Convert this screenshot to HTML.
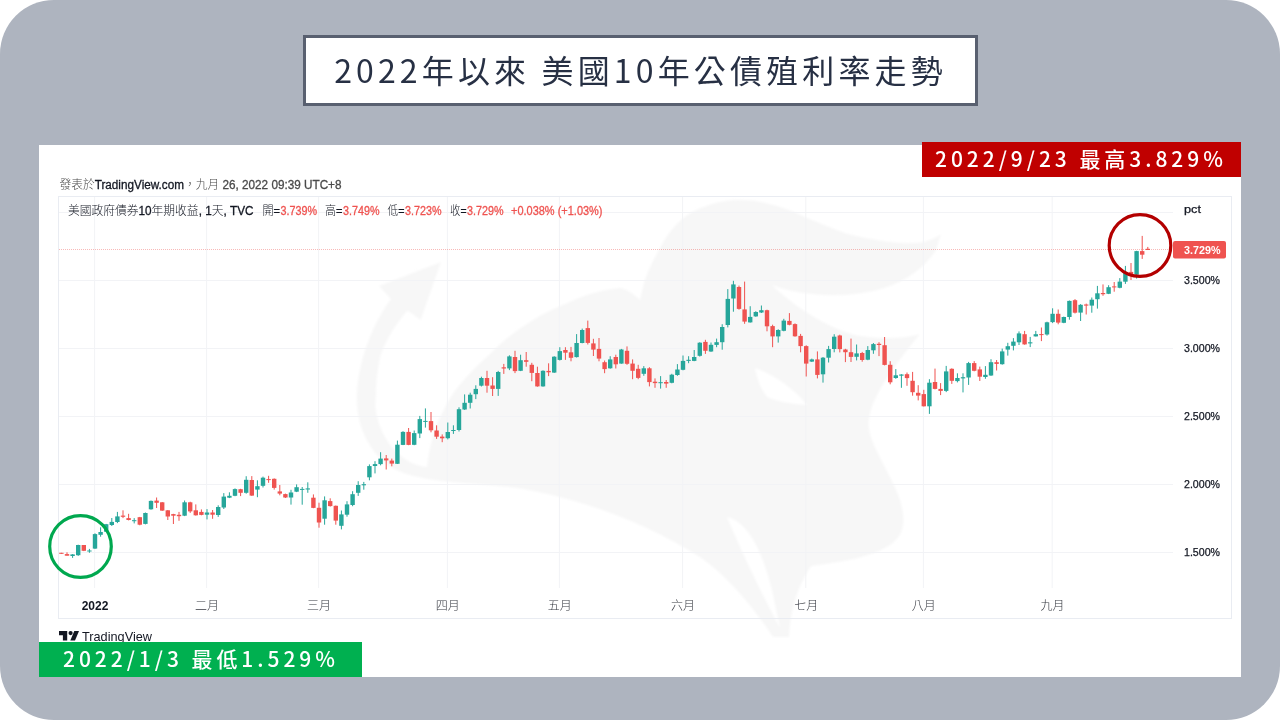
<!DOCTYPE html>
<html lang="zh-Hant"><head><meta charset="utf-8"><title>2022年以來 美國10年公債殖利率走勢</title>
<style>
html,body{margin:0;padding:0;background:#fff;}
body{width:1280px;height:720px;position:relative;overflow:hidden;font-family:"Noto Sans CJK TC","Liberation Sans",sans-serif;}
.bg{position:absolute;left:0;top:0;width:1280px;height:720px;background:#aeb4bf;border-radius:54px;}
.title{position:absolute;left:303px;top:35px;width:675px;height:70.5px;box-sizing:border-box;border:3px solid #596070;background:#fff;color:#273044;font-size:32px;letter-spacing:4.15px;line-height:62px;text-align:center;white-space:nowrap;font-weight:400;}
.panel{position:absolute;left:39px;top:145px;width:1202px;height:532px;background:#fff;}
.chart{position:absolute;left:0;top:0;}
.tag{position:absolute;color:#fff;font-size:21px;letter-spacing:3.95px;white-space:nowrap;height:35px;line-height:33px;font-weight:500;}
.red{left:922px;top:142px;width:319px;background:#c00000;}
.green{left:39px;top:642px;width:323px;background:#00b050;}
.tag span{position:absolute;top:0;}
</style></head><body>
<div class="bg"></div>
<div class="title"><span id="tt">2022年以來 美國10年公債殖利率走勢</span></div>
<div class="panel"></div>
<svg class="chart" width="1280" height="720" viewBox="0 0 1280 720">
<defs><filter id="wb" x="-5%" y="-5%" width="110%" height="110%"><feGaussianBlur stdDeviation="1.1"/></filter></defs><g id="wm" fill="#f7f7f7" filter="url(#wb)"><path d="M441 262 L379 286 L391 299 C375 320 360 355 357 390 C355 420 365 445 385 463 C410 484 470 482 510 487 C580 497 650 525 700 557 C730 578 755 610 773 637 L789 637 C790 615 795 590 811 566 C840 562 870 558 890 545 C905 535 906 520 900 500 C890 470 865 440 869 419 C872 395 895 365 920 334 C905 339 880 339 860 336 C835 331 800 312 772 285 C800 296 850 300 887 287 C905 281 925 268 936 250 L941 234 C930 242 920 243 912 243 C900 244 870 240 846 233.5 C830 228 815 221 806 217.6 C795 212 780 206 769 204 C760 201 750 200 740 200 C728 200 716 202 708 205.6 C700 208 692 212 686 216 C675 224 666 236 660 248 C652 262 647 273 644 283 L640 300 C632 292 626 289 620 288 C600 290 585 295 572 301 C555 308 540 315 527 324 C512 333 500 344 490 354 C475 367 462 381 452 395 C444 408 437 422 433 436 C430 447 428 457 427 467 C415 466 405 460 396 452 C388 443 381 432 378 420 C375 410 375 402 376 395 C376 380 378 366 381 354 C387 338 396 324 407.5 310.6 L420.6 320 Z"/><path fill="#fff" d="M755 368 C775 375 795 390 807 405 C790 404 776 401 767 397 C760 388 757 378 755 368 Z M727 517 C748 522 762 550 772 590 L780 628 C765 600 745 560 727 517 Z"/></g>
<g stroke="#f2f3f6" stroke-width="1" shape-rendering="crispEdges">
<line x1="59" y1="552.5" x2="1173" y2="552.5"/>
<line x1="59" y1="484.5" x2="1173" y2="484.5"/>
<line x1="59" y1="416.5" x2="1173" y2="416.5"/>
<line x1="59" y1="348.5" x2="1173" y2="348.5"/>
<line x1="59" y1="280.5" x2="1173" y2="280.5"/>
<line x1="59" y1="212.5" x2="1173" y2="212.5"/>
</g><g stroke="#f2f3f6" stroke-width="1">
<line x1="94.6" y1="197" x2="94.6" y2="588"/>
<line x1="206.6" y1="197" x2="206.6" y2="588"/>
<line x1="318.6" y1="197" x2="318.6" y2="588"/>
<line x1="447.4" y1="197" x2="447.4" y2="588"/>
<line x1="559.4" y1="197" x2="559.4" y2="588"/>
<line x1="682.6" y1="197" x2="682.6" y2="588"/>
<line x1="805.8" y1="197" x2="805.8" y2="588"/>
<line x1="923.4" y1="197" x2="923.4" y2="588"/>
<line x1="1052.2" y1="197" x2="1052.2" y2="588"/>
</g>
<rect x="58.5" y="196.5" width="1173" height="422" fill="none" stroke="#e9ecf2" stroke-width="1"/>
<line x1="59" y1="249.5" x2="1173" y2="249.5" stroke="#ef5350" stroke-width="1" stroke-dasharray="1 1" opacity="0.4"/>
<g id="candles">
<rect x="60.9" y="552.8" width="1" height="1.0" fill="#ef5350"/><rect x="59.2" y="552.8" width="4.4" height="1.0" fill="#ef5350"/>
<rect x="66.5" y="552.3" width="1" height="3.3" fill="#ef5350"/><rect x="64.8" y="554.1" width="4.4" height="1.6" fill="#ef5350"/>
<rect x="72.1" y="554.1" width="1" height="3.8" fill="#26a69a"/><rect x="70.4" y="554.4" width="4.4" height="1.6" fill="#26a69a"/>
<rect x="77.7" y="544.7" width="1" height="11.2" fill="#26a69a"/><rect x="76.0" y="545.0" width="4.4" height="10.2" fill="#26a69a"/>
<rect x="83.3" y="545.0" width="1" height="6.1" fill="#ef5350"/><rect x="81.6" y="545.0" width="4.4" height="5.8" fill="#ef5350"/>
<rect x="88.9" y="548.9" width="1" height="3.9" fill="#26a69a"/><rect x="87.2" y="550.5" width="4.4" height="1.0" fill="#26a69a"/>
<rect x="94.5" y="533.3" width="1" height="15.6" fill="#26a69a"/><rect x="92.8" y="534.1" width="4.4" height="14.5" fill="#26a69a"/>
<rect x="100.1" y="527.3" width="1" height="9.4" fill="#26a69a"/><rect x="98.4" y="532.0" width="4.4" height="2.8" fill="#26a69a"/>
<rect x="105.7" y="523.9" width="1" height="8.1" fill="#26a69a"/><rect x="104.0" y="524.2" width="4.4" height="7.5" fill="#26a69a"/>
<rect x="111.3" y="518.0" width="1" height="8.0" fill="#26a69a"/><rect x="109.6" y="521.9" width="4.4" height="3.1" fill="#26a69a"/>
<rect x="116.9" y="511.9" width="1" height="11.2" fill="#26a69a"/><rect x="115.2" y="516.4" width="4.4" height="5.6" fill="#26a69a"/>
<rect x="122.5" y="510.3" width="1" height="7.8" fill="#ef5350"/><rect x="120.8" y="515.6" width="4.4" height="1.2" fill="#ef5350"/>
<rect x="128.1" y="513.8" width="1" height="6.6" fill="#ef5350"/><rect x="126.4" y="518.1" width="4.4" height="1.9" fill="#ef5350"/>
<rect x="133.7" y="518.1" width="1" height="5.3" fill="#26a69a"/><rect x="132.0" y="520.2" width="4.4" height="1.0" fill="#26a69a"/>
<rect x="139.3" y="516.9" width="1" height="8.4" fill="#ef5350"/><rect x="137.6" y="517.2" width="4.4" height="7.5" fill="#ef5350"/>
<rect x="144.9" y="512.5" width="1" height="11.9" fill="#26a69a"/><rect x="143.2" y="513.0" width="4.4" height="10.9" fill="#26a69a"/>
<rect x="150.5" y="500.5" width="1" height="9.2" fill="#26a69a"/><rect x="148.8" y="500.9" width="4.4" height="8.4" fill="#26a69a"/>
<rect x="156.1" y="497.5" width="1" height="10.5" fill="#ef5350"/><rect x="154.4" y="500.6" width="4.4" height="2.2" fill="#ef5350"/>
<rect x="161.7" y="502.0" width="1" height="8.9" fill="#ef5350"/><rect x="160.0" y="502.3" width="4.4" height="8.3" fill="#ef5350"/>
<rect x="167.3" y="510.0" width="1" height="10.0" fill="#ef5350"/><rect x="165.6" y="510.3" width="4.4" height="6.2" fill="#ef5350"/>
<rect x="172.9" y="513.8" width="1" height="10.2" fill="#ef5350"/><rect x="171.2" y="514.1" width="4.4" height="1.6" fill="#ef5350"/>
<rect x="178.5" y="511.9" width="1" height="8.9" fill="#ef5350"/><rect x="176.8" y="514.8" width="4.4" height="1.4" fill="#ef5350"/>
<rect x="184.1" y="500.5" width="1" height="15.6" fill="#26a69a"/><rect x="182.4" y="502.3" width="4.4" height="13.4" fill="#26a69a"/>
<rect x="189.7" y="501.7" width="1" height="11.2" fill="#ef5350"/><rect x="188.0" y="502.3" width="4.4" height="9.1" fill="#ef5350"/>
<rect x="195.3" y="504.4" width="1" height="11.2" fill="#ef5350"/><rect x="193.6" y="510.3" width="4.4" height="5.0" fill="#ef5350"/>
<rect x="200.9" y="509.4" width="1" height="5.9" fill="#ef5350"/><rect x="199.2" y="511.9" width="4.4" height="3.0" fill="#ef5350"/>
<rect x="206.5" y="509.1" width="1" height="10.3" fill="#26a69a"/><rect x="204.8" y="512.5" width="4.4" height="2.2" fill="#26a69a"/>
<rect x="212.1" y="510.0" width="1" height="8.8" fill="#ef5350"/><rect x="210.4" y="512.5" width="4.4" height="2.2" fill="#ef5350"/>
<rect x="217.7" y="505.3" width="1" height="11.6" fill="#26a69a"/><rect x="216.0" y="507.0" width="4.4" height="8.0" fill="#26a69a"/>
<rect x="223.3" y="493.1" width="1" height="15.9" fill="#26a69a"/><rect x="221.6" y="496.6" width="4.4" height="10.9" fill="#26a69a"/>
<rect x="228.9" y="492.3" width="1" height="5.8" fill="#26a69a"/><rect x="227.2" y="495.8" width="4.4" height="1.9" fill="#26a69a"/>
<rect x="234.5" y="488.4" width="1" height="7.8" fill="#26a69a"/><rect x="232.8" y="489.1" width="4.4" height="6.7" fill="#26a69a"/>
<rect x="240.1" y="488.8" width="1" height="7.3" fill="#ef5350"/><rect x="238.4" y="489.2" width="4.4" height="3.6" fill="#ef5350"/>
<rect x="245.7" y="476.2" width="1" height="17.5" fill="#26a69a"/><rect x="244.0" y="479.8" width="4.4" height="13.0" fill="#26a69a"/>
<rect x="251.3" y="476.1" width="1" height="19.8" fill="#ef5350"/><rect x="249.6" y="480.0" width="4.4" height="15.6" fill="#ef5350"/>
<rect x="256.9" y="480.3" width="1" height="16.9" fill="#26a69a"/><rect x="255.2" y="486.2" width="4.4" height="3.4" fill="#26a69a"/>
<rect x="262.5" y="476.6" width="1" height="10.9" fill="#26a69a"/><rect x="260.8" y="477.7" width="4.4" height="8.1" fill="#26a69a"/>
<rect x="268.1" y="475.8" width="1" height="7.0" fill="#ef5350"/><rect x="266.4" y="479.1" width="4.4" height="1.0" fill="#ef5350"/>
<rect x="273.7" y="478.4" width="1" height="11.2" fill="#ef5350"/><rect x="272.0" y="478.8" width="4.4" height="9.1" fill="#ef5350"/>
<rect x="279.3" y="485.0" width="1" height="10.3" fill="#ef5350"/><rect x="277.6" y="491.4" width="4.4" height="2.2" fill="#ef5350"/>
<rect x="284.9" y="493.6" width="1" height="4.4" fill="#ef5350"/><rect x="283.2" y="494.1" width="4.4" height="3.4" fill="#ef5350"/>
<rect x="290.5" y="489.8" width="1" height="14.8" fill="#26a69a"/><rect x="288.8" y="492.5" width="4.4" height="5.0" fill="#26a69a"/>
<rect x="296.1" y="484.4" width="1" height="7.7" fill="#26a69a"/><rect x="294.4" y="487.2" width="4.4" height="4.5" fill="#26a69a"/>
<rect x="301.7" y="487.0" width="1" height="17.7" fill="#26a69a"/><rect x="300.0" y="488.9" width="4.4" height="1.0" fill="#26a69a"/>
<rect x="307.3" y="482.3" width="1" height="10.5" fill="#26a69a"/><rect x="305.6" y="488.4" width="4.4" height="1.1" fill="#26a69a"/>
<rect x="312.9" y="494.4" width="1" height="13.8" fill="#ef5350"/><rect x="311.2" y="497.7" width="4.4" height="10.2" fill="#ef5350"/>
<rect x="318.5" y="502.7" width="1" height="25.0" fill="#ef5350"/><rect x="316.8" y="507.8" width="4.4" height="14.7" fill="#ef5350"/>
<rect x="324.1" y="496.4" width="1" height="28.3" fill="#26a69a"/><rect x="322.4" y="500.3" width="4.4" height="18.4" fill="#26a69a"/>
<rect x="329.7" y="498.3" width="1" height="8.3" fill="#ef5350"/><rect x="328.0" y="501.1" width="4.4" height="5.0" fill="#ef5350"/>
<rect x="335.3" y="505.5" width="1" height="19.2" fill="#ef5350"/><rect x="333.6" y="505.8" width="4.4" height="14.8" fill="#ef5350"/>
<rect x="340.9" y="510.5" width="1" height="18.9" fill="#26a69a"/><rect x="339.2" y="514.4" width="4.4" height="11.4" fill="#26a69a"/>
<rect x="346.5" y="501.2" width="1" height="15.5" fill="#26a69a"/><rect x="344.8" y="504.4" width="4.4" height="10.3" fill="#26a69a"/>
<rect x="352.1" y="491.2" width="1" height="15.0" fill="#26a69a"/><rect x="350.4" y="494.2" width="4.4" height="10.8" fill="#26a69a"/>
<rect x="357.7" y="481.2" width="1" height="14.7" fill="#26a69a"/><rect x="356.0" y="485.0" width="4.4" height="7.8" fill="#26a69a"/>
<rect x="363.3" y="481.9" width="1" height="7.8" fill="#26a69a"/><rect x="361.6" y="484.2" width="4.4" height="1.1" fill="#26a69a"/>
<rect x="368.9" y="464.4" width="1" height="15.9" fill="#26a69a"/><rect x="367.2" y="466.1" width="4.4" height="11.2" fill="#26a69a"/>
<rect x="374.5" y="461.2" width="1" height="12.2" fill="#26a69a"/><rect x="372.8" y="464.1" width="4.4" height="1.9" fill="#26a69a"/>
<rect x="380.1" y="452.2" width="1" height="13.1" fill="#26a69a"/><rect x="378.4" y="458.6" width="4.4" height="5.5" fill="#26a69a"/>
<rect x="385.7" y="455.0" width="1" height="14.5" fill="#ef5350"/><rect x="384.0" y="458.4" width="4.4" height="2.0" fill="#ef5350"/>
<rect x="391.3" y="458.6" width="1" height="7.7" fill="#ef5350"/><rect x="389.6" y="460.6" width="4.4" height="3.0" fill="#ef5350"/>
<rect x="396.9" y="440.6" width="1" height="23.4" fill="#26a69a"/><rect x="395.2" y="444.7" width="4.4" height="19.1" fill="#26a69a"/>
<rect x="402.5" y="431.2" width="1" height="13.9" fill="#26a69a"/><rect x="400.8" y="431.9" width="4.4" height="13.0" fill="#26a69a"/>
<rect x="408.1" y="428.0" width="1" height="17.2" fill="#ef5350"/><rect x="406.4" y="431.9" width="4.4" height="13.0" fill="#ef5350"/>
<rect x="413.7" y="430.5" width="1" height="14.7" fill="#26a69a"/><rect x="412.0" y="433.1" width="4.4" height="11.7" fill="#26a69a"/>
<rect x="419.3" y="415.9" width="1" height="22.2" fill="#26a69a"/><rect x="417.6" y="419.1" width="4.4" height="14.4" fill="#26a69a"/>
<rect x="424.9" y="408.4" width="1" height="19.2" fill="#26a69a"/><rect x="423.2" y="420.9" width="4.4" height="1.0" fill="#26a69a"/>
<rect x="430.5" y="412.0" width="1" height="20.3" fill="#ef5350"/><rect x="428.8" y="421.1" width="4.4" height="9.2" fill="#ef5350"/>
<rect x="436.1" y="425.3" width="1" height="13.6" fill="#ef5350"/><rect x="434.4" y="430.5" width="4.4" height="6.2" fill="#ef5350"/>
<rect x="441.7" y="434.4" width="1" height="7.8" fill="#ef5350"/><rect x="440.0" y="436.6" width="4.4" height="1.7" fill="#ef5350"/>
<rect x="447.3" y="422.5" width="1" height="16.9" fill="#26a69a"/><rect x="445.6" y="432.0" width="4.4" height="6.2" fill="#26a69a"/>
<rect x="452.9" y="425.3" width="1" height="8.6" fill="#26a69a"/><rect x="451.2" y="430.0" width="4.4" height="1.0" fill="#26a69a"/>
<rect x="458.5" y="407.3" width="1" height="24.2" fill="#26a69a"/><rect x="456.8" y="409.2" width="4.4" height="20.8" fill="#26a69a"/>
<rect x="464.1" y="394.4" width="1" height="15.5" fill="#26a69a"/><rect x="462.4" y="402.8" width="4.4" height="6.7" fill="#26a69a"/>
<rect x="469.7" y="392.7" width="1" height="15.8" fill="#26a69a"/><rect x="468.0" y="394.7" width="4.4" height="8.1" fill="#26a69a"/>
<rect x="475.3" y="385.3" width="1" height="13.8" fill="#26a69a"/><rect x="473.6" y="388.9" width="4.4" height="5.3" fill="#26a69a"/>
<rect x="480.9" y="376.7" width="1" height="9.8" fill="#26a69a"/><rect x="479.2" y="378.0" width="4.4" height="7.7" fill="#26a69a"/>
<rect x="486.5" y="370.8" width="1" height="21.9" fill="#ef5350"/><rect x="484.8" y="378.0" width="4.4" height="7.7" fill="#ef5350"/>
<rect x="492.1" y="377.2" width="1" height="18.8" fill="#ef5350"/><rect x="490.4" y="385.5" width="4.4" height="3.4" fill="#ef5350"/>
<rect x="497.7" y="370.9" width="1" height="25.0" fill="#26a69a"/><rect x="496.0" y="372.0" width="4.4" height="16.9" fill="#26a69a"/>
<rect x="503.3" y="363.9" width="1" height="10.0" fill="#ef5350"/><rect x="501.6" y="367.3" width="4.4" height="1.2" fill="#ef5350"/>
<rect x="508.9" y="355.3" width="1" height="14.8" fill="#26a69a"/><rect x="507.2" y="356.4" width="4.4" height="12.0" fill="#26a69a"/>
<rect x="514.5" y="350.8" width="1" height="22.3" fill="#ef5350"/><rect x="512.8" y="357.0" width="4.4" height="14.1" fill="#ef5350"/>
<rect x="520.1" y="354.7" width="1" height="16.4" fill="#26a69a"/><rect x="518.4" y="360.2" width="4.4" height="10.6" fill="#26a69a"/>
<rect x="525.7" y="352.0" width="1" height="14.7" fill="#ef5350"/><rect x="524.0" y="360.2" width="4.4" height="1.6" fill="#ef5350"/>
<rect x="531.3" y="362.8" width="1" height="18.4" fill="#ef5350"/><rect x="529.6" y="364.8" width="4.4" height="8.1" fill="#ef5350"/>
<rect x="536.9" y="366.7" width="1" height="20.0" fill="#ef5350"/><rect x="535.2" y="373.0" width="4.4" height="13.4" fill="#ef5350"/>
<rect x="542.5" y="370.3" width="1" height="16.4" fill="#26a69a"/><rect x="540.8" y="370.8" width="4.4" height="15.6" fill="#26a69a"/>
<rect x="548.1" y="363.3" width="1" height="12.8" fill="#ef5350"/><rect x="546.4" y="370.9" width="4.4" height="1.4" fill="#ef5350"/>
<rect x="553.7" y="356.2" width="1" height="16.7" fill="#26a69a"/><rect x="552.0" y="356.7" width="4.4" height="15.9" fill="#26a69a"/>
<rect x="559.3" y="347.2" width="1" height="13.3" fill="#26a69a"/><rect x="557.6" y="351.1" width="4.4" height="8.8" fill="#26a69a"/>
<rect x="564.9" y="347.2" width="1" height="12.7" fill="#ef5350"/><rect x="563.2" y="350.0" width="4.4" height="2.7" fill="#ef5350"/>
<rect x="570.5" y="346.9" width="1" height="14.4" fill="#ef5350"/><rect x="568.8" y="352.3" width="4.4" height="5.5" fill="#ef5350"/>
<rect x="576.1" y="334.1" width="1" height="23.4" fill="#26a69a"/><rect x="574.4" y="343.0" width="4.4" height="14.1" fill="#26a69a"/>
<rect x="581.7" y="328.6" width="1" height="14.7" fill="#26a69a"/><rect x="580.0" y="330.0" width="4.4" height="13.0" fill="#26a69a"/>
<rect x="587.3" y="320.6" width="1" height="23.9" fill="#ef5350"/><rect x="585.6" y="328.1" width="4.4" height="14.8" fill="#ef5350"/>
<rect x="592.9" y="338.8" width="1" height="17.2" fill="#ef5350"/><rect x="591.2" y="343.4" width="4.4" height="6.2" fill="#ef5350"/>
<rect x="598.5" y="338.0" width="1" height="23.3" fill="#ef5350"/><rect x="596.8" y="348.9" width="4.4" height="9.7" fill="#ef5350"/>
<rect x="604.1" y="360.5" width="1" height="12.7" fill="#ef5350"/><rect x="602.4" y="362.2" width="4.4" height="6.9" fill="#ef5350"/>
<rect x="609.7" y="356.2" width="1" height="12.5" fill="#26a69a"/><rect x="608.0" y="359.4" width="4.4" height="8.9" fill="#26a69a"/>
<rect x="615.3" y="354.7" width="1" height="13.8" fill="#ef5350"/><rect x="613.6" y="357.0" width="4.4" height="7.3" fill="#ef5350"/>
<rect x="620.9" y="348.9" width="1" height="14.8" fill="#26a69a"/><rect x="619.2" y="349.5" width="4.4" height="14.1" fill="#26a69a"/>
<rect x="626.5" y="346.4" width="1" height="18.4" fill="#ef5350"/><rect x="624.8" y="350.8" width="4.4" height="13.0" fill="#ef5350"/>
<rect x="632.1" y="359.4" width="1" height="19.8" fill="#ef5350"/><rect x="630.4" y="363.6" width="4.4" height="7.2" fill="#ef5350"/>
<rect x="637.7" y="364.8" width="1" height="14.4" fill="#ef5350"/><rect x="636.0" y="368.8" width="4.4" height="9.1" fill="#ef5350"/>
<rect x="643.3" y="366.1" width="1" height="9.7" fill="#26a69a"/><rect x="641.6" y="368.3" width="4.4" height="5.5" fill="#26a69a"/>
<rect x="648.9" y="367.2" width="1" height="19.2" fill="#ef5350"/><rect x="647.2" y="368.3" width="4.4" height="13.8" fill="#ef5350"/>
<rect x="654.5" y="378.4" width="1" height="9.4" fill="#ef5350"/><rect x="652.8" y="381.7" width="4.4" height="1.4" fill="#ef5350"/>
<rect x="660.1" y="376.1" width="1" height="12.5" fill="#26a69a"/><rect x="658.4" y="382.2" width="4.4" height="1.0" fill="#26a69a"/>
<rect x="665.7" y="380.0" width="1" height="7.8" fill="#ef5350"/><rect x="664.0" y="382.0" width="4.4" height="1.6" fill="#ef5350"/>
<rect x="671.3" y="373.8" width="1" height="9.5" fill="#26a69a"/><rect x="669.6" y="374.7" width="4.4" height="8.1" fill="#26a69a"/>
<rect x="676.9" y="364.1" width="1" height="11.7" fill="#26a69a"/><rect x="675.2" y="369.5" width="4.4" height="5.5" fill="#26a69a"/>
<rect x="682.5" y="355.5" width="1" height="14.8" fill="#26a69a"/><rect x="680.8" y="360.9" width="4.4" height="8.9" fill="#26a69a"/>
<rect x="688.1" y="356.2" width="1" height="7.0" fill="#26a69a"/><rect x="686.4" y="359.8" width="4.4" height="1.1" fill="#26a69a"/>
<rect x="693.7" y="350.0" width="1" height="11.2" fill="#26a69a"/><rect x="692.0" y="357.0" width="4.4" height="3.9" fill="#26a69a"/>
<rect x="699.3" y="342.2" width="1" height="14.4" fill="#26a69a"/><rect x="697.6" y="342.7" width="4.4" height="13.1" fill="#26a69a"/>
<rect x="704.9" y="339.8" width="1" height="14.1" fill="#ef5350"/><rect x="703.2" y="341.9" width="4.4" height="8.9" fill="#ef5350"/>
<rect x="710.5" y="342.5" width="1" height="9.4" fill="#26a69a"/><rect x="708.8" y="344.8" width="4.4" height="6.7" fill="#26a69a"/>
<rect x="716.1" y="338.6" width="1" height="8.6" fill="#26a69a"/><rect x="714.4" y="342.2" width="4.4" height="2.7" fill="#26a69a"/>
<rect x="721.7" y="324.2" width="1" height="25.5" fill="#26a69a"/><rect x="720.0" y="327.0" width="4.4" height="15.2" fill="#26a69a"/>
<rect x="727.3" y="289.1" width="1" height="38.3" fill="#26a69a"/><rect x="725.6" y="298.9" width="4.4" height="26.1" fill="#26a69a"/>
<rect x="732.9" y="280.8" width="1" height="30.9" fill="#26a69a"/><rect x="731.2" y="284.4" width="4.4" height="14.1" fill="#26a69a"/>
<rect x="738.5" y="285.6" width="1" height="24.1" fill="#ef5350"/><rect x="736.8" y="287.0" width="4.4" height="21.9" fill="#ef5350"/>
<rect x="744.1" y="281.6" width="1" height="42.2" fill="#ef5350"/><rect x="742.4" y="309.4" width="4.4" height="12.2" fill="#ef5350"/>
<rect x="749.7" y="306.2" width="1" height="16.4" fill="#26a69a"/><rect x="748.0" y="316.9" width="4.4" height="5.5" fill="#26a69a"/>
<rect x="755.3" y="311.2" width="1" height="5.6" fill="#26a69a"/><rect x="753.6" y="312.0" width="4.4" height="4.4" fill="#26a69a"/>
<rect x="760.9" y="305.5" width="1" height="7.5" fill="#26a69a"/><rect x="759.2" y="310.2" width="4.4" height="2.3" fill="#26a69a"/>
<rect x="766.5" y="309.7" width="1" height="21.6" fill="#ef5350"/><rect x="764.8" y="310.2" width="4.4" height="16.1" fill="#ef5350"/>
<rect x="772.1" y="324.7" width="1" height="22.5" fill="#ef5350"/><rect x="770.4" y="326.1" width="4.4" height="10.3" fill="#ef5350"/>
<rect x="777.7" y="329.2" width="1" height="13.4" fill="#26a69a"/><rect x="776.0" y="330.0" width="4.4" height="6.4" fill="#26a69a"/>
<rect x="783.3" y="318.8" width="1" height="12.5" fill="#26a69a"/><rect x="781.6" y="320.6" width="4.4" height="10.2" fill="#26a69a"/>
<rect x="788.9" y="313.1" width="1" height="12.2" fill="#ef5350"/><rect x="787.2" y="320.9" width="4.4" height="3.9" fill="#ef5350"/>
<rect x="794.5" y="323.4" width="1" height="13.3" fill="#ef5350"/><rect x="792.8" y="324.1" width="4.4" height="12.2" fill="#ef5350"/>
<rect x="800.1" y="333.9" width="1" height="18.4" fill="#ef5350"/><rect x="798.4" y="335.9" width="4.4" height="10.2" fill="#ef5350"/>
<rect x="805.7" y="345.3" width="1" height="31.2" fill="#ef5350"/><rect x="804.0" y="346.1" width="4.4" height="17.5" fill="#ef5350"/>
<rect x="811.3" y="358.6" width="1" height="3.4" fill="#26a69a"/><rect x="809.6" y="359.4" width="4.4" height="2.2" fill="#26a69a"/>
<rect x="816.9" y="351.4" width="1" height="27.0" fill="#ef5350"/><rect x="815.2" y="359.4" width="4.4" height="15.5" fill="#ef5350"/>
<rect x="822.5" y="357.0" width="1" height="25.6" fill="#26a69a"/><rect x="820.8" y="357.7" width="4.4" height="16.6" fill="#26a69a"/>
<rect x="828.1" y="345.9" width="1" height="16.6" fill="#26a69a"/><rect x="826.4" y="349.1" width="4.4" height="8.6" fill="#26a69a"/>
<rect x="833.7" y="334.2" width="1" height="18.1" fill="#26a69a"/><rect x="832.0" y="336.7" width="4.4" height="12.3" fill="#26a69a"/>
<rect x="839.3" y="334.7" width="1" height="17.7" fill="#ef5350"/><rect x="837.6" y="335.5" width="4.4" height="13.6" fill="#ef5350"/>
<rect x="844.9" y="348.8" width="1" height="13.3" fill="#ef5350"/><rect x="843.2" y="349.5" width="4.4" height="2.7" fill="#ef5350"/>
<rect x="850.5" y="338.6" width="1" height="23.4" fill="#ef5350"/><rect x="848.8" y="352.2" width="4.4" height="4.7" fill="#ef5350"/>
<rect x="856.1" y="344.5" width="1" height="15.9" fill="#26a69a"/><rect x="854.4" y="353.4" width="4.4" height="3.4" fill="#26a69a"/>
<rect x="861.7" y="351.9" width="1" height="9.8" fill="#ef5350"/><rect x="860.0" y="353.0" width="4.4" height="7.0" fill="#ef5350"/>
<rect x="867.3" y="346.1" width="1" height="14.1" fill="#26a69a"/><rect x="865.6" y="350.0" width="4.4" height="9.7" fill="#26a69a"/>
<rect x="872.9" y="343.0" width="1" height="10.8" fill="#26a69a"/><rect x="871.2" y="344.1" width="4.4" height="6.2" fill="#26a69a"/>
<rect x="878.5" y="342.2" width="1" height="13.9" fill="#ef5350"/><rect x="876.8" y="343.8" width="4.4" height="1.2" fill="#ef5350"/>
<rect x="884.1" y="337.0" width="1" height="28.4" fill="#ef5350"/><rect x="882.4" y="345.2" width="4.4" height="19.7" fill="#ef5350"/>
<rect x="889.7" y="361.2" width="1" height="23.1" fill="#ef5350"/><rect x="888.0" y="364.8" width="4.4" height="17.5" fill="#ef5350"/>
<rect x="895.3" y="369.1" width="1" height="9.7" fill="#26a69a"/><rect x="893.6" y="375.3" width="4.4" height="2.7" fill="#26a69a"/>
<rect x="900.9" y="374.2" width="1" height="13.6" fill="#26a69a"/><rect x="899.2" y="374.5" width="4.4" height="1.2" fill="#26a69a"/>
<rect x="906.5" y="372.5" width="1" height="13.3" fill="#ef5350"/><rect x="904.8" y="374.2" width="4.4" height="3.9" fill="#ef5350"/>
<rect x="912.1" y="371.9" width="1" height="23.8" fill="#ef5350"/><rect x="910.4" y="380.8" width="4.4" height="11.4" fill="#ef5350"/>
<rect x="917.7" y="385.2" width="1" height="15.2" fill="#ef5350"/><rect x="916.0" y="392.8" width="4.4" height="2.8" fill="#ef5350"/>
<rect x="923.3" y="389.8" width="1" height="16.7" fill="#ef5350"/><rect x="921.6" y="394.1" width="4.4" height="12.2" fill="#ef5350"/>
<rect x="928.9" y="379.2" width="1" height="34.7" fill="#26a69a"/><rect x="927.2" y="382.7" width="4.4" height="23.6" fill="#26a69a"/>
<rect x="934.5" y="368.6" width="1" height="20.8" fill="#ef5350"/><rect x="932.8" y="382.0" width="4.4" height="6.9" fill="#ef5350"/>
<rect x="940.1" y="383.1" width="1" height="12.0" fill="#ef5350"/><rect x="938.4" y="388.9" width="4.4" height="2.0" fill="#ef5350"/>
<rect x="945.7" y="365.9" width="1" height="26.2" fill="#26a69a"/><rect x="944.0" y="371.4" width="4.4" height="19.5" fill="#26a69a"/>
<rect x="951.3" y="368.3" width="1" height="15.6" fill="#ef5350"/><rect x="949.6" y="368.8" width="4.4" height="12.0" fill="#ef5350"/>
<rect x="956.9" y="373.3" width="1" height="9.1" fill="#26a69a"/><rect x="955.2" y="378.0" width="4.4" height="3.1" fill="#26a69a"/>
<rect x="962.5" y="373.3" width="1" height="19.1" fill="#26a69a"/><rect x="960.8" y="377.2" width="4.4" height="1.2" fill="#26a69a"/>
<rect x="968.1" y="361.9" width="1" height="23.0" fill="#26a69a"/><rect x="966.4" y="363.1" width="4.4" height="14.4" fill="#26a69a"/>
<rect x="973.7" y="361.1" width="1" height="10.2" fill="#ef5350"/><rect x="972.0" y="363.1" width="4.4" height="7.7" fill="#ef5350"/>
<rect x="979.3" y="366.6" width="1" height="14.4" fill="#ef5350"/><rect x="977.6" y="369.4" width="4.4" height="7.3" fill="#ef5350"/>
<rect x="984.9" y="366.1" width="1" height="12.7" fill="#26a69a"/><rect x="983.2" y="374.8" width="4.4" height="2.2" fill="#26a69a"/>
<rect x="990.5" y="359.2" width="1" height="16.7" fill="#26a69a"/><rect x="988.8" y="362.2" width="4.4" height="13.3" fill="#26a69a"/>
<rect x="996.1" y="360.0" width="1" height="10.5" fill="#ef5350"/><rect x="994.4" y="362.2" width="4.4" height="1.7" fill="#ef5350"/>
<rect x="1001.7" y="348.6" width="1" height="16.1" fill="#26a69a"/><rect x="1000.0" y="351.4" width="4.4" height="12.8" fill="#26a69a"/>
<rect x="1007.3" y="342.8" width="1" height="12.8" fill="#26a69a"/><rect x="1005.6" y="346.2" width="4.4" height="3.4" fill="#26a69a"/>
<rect x="1012.9" y="338.1" width="1" height="12.3" fill="#26a69a"/><rect x="1011.2" y="341.6" width="4.4" height="4.2" fill="#26a69a"/>
<rect x="1018.5" y="331.4" width="1" height="13.6" fill="#26a69a"/><rect x="1016.8" y="333.4" width="4.4" height="8.9" fill="#26a69a"/>
<rect x="1024.1" y="330.9" width="1" height="13.8" fill="#ef5350"/><rect x="1022.4" y="334.2" width="4.4" height="10.2" fill="#ef5350"/>
<rect x="1029.7" y="336.9" width="1" height="10.2" fill="#26a69a"/><rect x="1028.0" y="342.3" width="4.4" height="1.1" fill="#26a69a"/>
<rect x="1035.3" y="330.9" width="1" height="5.6" fill="#26a69a"/><rect x="1033.6" y="334.2" width="4.4" height="2.2" fill="#26a69a"/>
<rect x="1040.9" y="327.5" width="1" height="13.6" fill="#ef5350"/><rect x="1039.2" y="334.1" width="4.4" height="1.0" fill="#ef5350"/>
<rect x="1046.5" y="321.7" width="1" height="13.9" fill="#26a69a"/><rect x="1044.8" y="322.3" width="4.4" height="12.2" fill="#26a69a"/>
<rect x="1052.1" y="308.3" width="1" height="14.8" fill="#26a69a"/><rect x="1050.4" y="313.8" width="4.4" height="8.3" fill="#26a69a"/>
<rect x="1057.7" y="309.5" width="1" height="14.8" fill="#ef5350"/><rect x="1056.0" y="313.8" width="4.4" height="8.8" fill="#ef5350"/>
<rect x="1063.3" y="316.6" width="1" height="6.6" fill="#26a69a"/><rect x="1061.6" y="317.0" width="4.4" height="5.8" fill="#26a69a"/>
<rect x="1068.9" y="300.5" width="1" height="19.2" fill="#26a69a"/><rect x="1067.2" y="300.9" width="4.4" height="16.1" fill="#26a69a"/>
<rect x="1074.5" y="299.1" width="1" height="14.4" fill="#ef5350"/><rect x="1072.8" y="300.2" width="4.4" height="12.5" fill="#ef5350"/>
<rect x="1080.1" y="304.1" width="1" height="16.9" fill="#26a69a"/><rect x="1078.4" y="304.8" width="4.4" height="7.8" fill="#26a69a"/>
<rect x="1085.7" y="303.6" width="1" height="10.9" fill="#ef5350"/><rect x="1084.0" y="304.5" width="4.4" height="1.1" fill="#ef5350"/>
<rect x="1091.3" y="297.5" width="1" height="15.2" fill="#26a69a"/><rect x="1089.6" y="299.7" width="4.4" height="5.9" fill="#26a69a"/>
<rect x="1096.9" y="285.9" width="1" height="22.7" fill="#26a69a"/><rect x="1095.2" y="293.3" width="4.4" height="5.9" fill="#26a69a"/>
<rect x="1102.5" y="284.4" width="1" height="11.4" fill="#ef5350"/><rect x="1100.8" y="293.0" width="4.4" height="1.2" fill="#ef5350"/>
<rect x="1108.1" y="285.2" width="1" height="8.9" fill="#26a69a"/><rect x="1106.4" y="287.2" width="4.4" height="6.6" fill="#26a69a"/>
<rect x="1113.7" y="282.0" width="1" height="9.7" fill="#ef5350"/><rect x="1112.0" y="286.4" width="4.4" height="1.0" fill="#ef5350"/>
<rect x="1119.3" y="278.1" width="1" height="10.2" fill="#26a69a"/><rect x="1117.6" y="281.6" width="4.4" height="6.2" fill="#26a69a"/>
<rect x="1124.9" y="265.9" width="1" height="18.0" fill="#26a69a"/><rect x="1123.2" y="272.2" width="4.4" height="9.5" fill="#26a69a"/>
<rect x="1130.5" y="263.0" width="1" height="17.0" fill="#ef5350"/><rect x="1128.8" y="271.9" width="4.4" height="2.8" fill="#ef5350"/>
<rect x="1136.1" y="250.8" width="1" height="27.8" fill="#26a69a"/><rect x="1134.4" y="251.1" width="4.4" height="23.6" fill="#26a69a"/>
<rect x="1141.7" y="235.9" width="1" height="23.0" fill="#ef5350"/><rect x="1140.0" y="251.1" width="4.4" height="3.6" fill="#ef5350"/>
<rect x="1147.3" y="246.9" width="1" height="3.1" fill="#ef5350"/><rect x="1145.6" y="248.8" width="4.4" height="1.2" fill="#ef5350"/>
</g>
<g font-family='"Liberation Sans","Noto Sans CJK TC",sans-serif' font-size="11" fill="#131722" stroke="#131722" stroke-width="0.25">
<text x="1184" y="556.1" textLength="36" lengthAdjust="spacingAndGlyphs">1.500%</text>
<text x="1184" y="488.1" textLength="36" lengthAdjust="spacingAndGlyphs">2.000%</text>
<text x="1184" y="420.1" textLength="36" lengthAdjust="spacingAndGlyphs">2.500%</text>
<text x="1184" y="352.1" textLength="36" lengthAdjust="spacingAndGlyphs">3.000%</text>
<text x="1184" y="284.1" textLength="36" lengthAdjust="spacingAndGlyphs">3.500%</text>
<text x="1184" y="213" textLength="17" lengthAdjust="spacingAndGlyphs">pct</text>
</g>
<rect x="1173" y="241" width="53" height="17.5" rx="2" fill="#ef5350"/>
<text x="1184" y="253.8" font-family='"Liberation Sans","Noto Sans CJK TC",sans-serif' font-size="11" font-weight="bold" fill="#fff" textLength="36.5" lengthAdjust="spacingAndGlyphs">3.729%</text>
<g font-family='"Liberation Sans","Noto Sans CJK TC",sans-serif' font-size="12" fill="#33363e" font-weight="300" text-anchor="middle">
<text x="95" y="609.5" font-weight="bold" font-size="12" fill="#131722">2022</text>
<text x="207.0" y="609.5">二月</text>
<text x="319.0" y="609.5">三月</text>
<text x="447.8" y="609.5">四月</text>
<text x="559.8" y="609.5">五月</text>
<text x="683.0" y="609.5">六月</text>
<text x="806.2" y="609.5">七月</text>
<text x="923.8" y="609.5">八月</text>
<text x="1052.6" y="609.5">九月</text>
</g>
<g font-family='"Liberation Sans","Noto Sans CJK TC",sans-serif' font-size="12" fill="#4a4a4a" font-weight="300">
<text x="59.5" y="188.5" textLength="282" lengthAdjust="spacingAndGlyphs">發表於<tspan fill="#131722" stroke="#131722" stroke-width="0.3">TradingView.com</tspan>，九月 <tspan stroke="#4a4a4a" stroke-width="0.3">26, 2022 09:39 UTC+8</tspan></text>
</g>
<g font-family='"Liberation Sans","Noto Sans CJK TC",sans-serif' font-size="12" fill="#131722" font-weight="300">
<text x="68" y="215.3" textLength="185.5" lengthAdjust="spacingAndGlyphs">美國政府債券<tspan stroke="#131722" stroke-width="0.3">10</tspan>年期收益<tspan stroke="#131722" stroke-width="0.3">, 1</tspan>天<tspan stroke="#131722" stroke-width="0.3">, TVC</tspan></text>
<text x="262.5" y="215.3" textLength="17.5" lengthAdjust="spacingAndGlyphs">開<tspan stroke="#131722" stroke-width="0.3">=</tspan></text>
<text x="280.5" y="215.3" fill="#ef5350" stroke="#ef5350" stroke-width="0.3" textLength="36.5" lengthAdjust="spacingAndGlyphs">3.739%</text>
<text x="325" y="215.3" textLength="17.5" lengthAdjust="spacingAndGlyphs">高<tspan stroke="#131722" stroke-width="0.3">=</tspan></text>
<text x="343" y="215.3" fill="#ef5350" stroke="#ef5350" stroke-width="0.3" textLength="36.5" lengthAdjust="spacingAndGlyphs">3.749%</text>
<text x="387.5" y="215.3" textLength="17.0" lengthAdjust="spacingAndGlyphs">低<tspan stroke="#131722" stroke-width="0.3">=</tspan></text>
<text x="405" y="215.3" fill="#ef5350" stroke="#ef5350" stroke-width="0.3" textLength="36.5" lengthAdjust="spacingAndGlyphs">3.723%</text>
<text x="450" y="215.3" textLength="16.5" lengthAdjust="spacingAndGlyphs">收<tspan stroke="#131722" stroke-width="0.3">=</tspan></text>
<text x="467" y="215.3" fill="#ef5350" stroke="#ef5350" stroke-width="0.3" textLength="36.5" lengthAdjust="spacingAndGlyphs">3.729%</text>
<text x="511" y="215.3" fill="#ef5350" stroke="#ef5350" stroke-width="0.3" textLength="91.5" lengthAdjust="spacingAndGlyphs">+0.038% (+1.03%)</text>
</g>
<g fill="#131722">
<path d="M59 631h8.2v9.6h-4.3v-5.3H59z"/><circle cx="70.6" cy="633.1" r="2.1"/><path d="M74.3 631h4.7l-4 9.6h-4.7z"/>
<text x="82" y="641.3" font-family='"Liberation Sans","Noto Sans CJK TC",sans-serif' font-size="13.5" textLength="70" lengthAdjust="spacingAndGlyphs">TradingView</text>
</g>
<circle cx="80.5" cy="546.5" r="30.8" fill="none" stroke="#00a84f" stroke-width="3.2"/>
<circle cx="1140" cy="245.5" r="30.8" fill="none" stroke="#b30000" stroke-width="3.2"/>
</svg>
<div class="tag red"><span id="rt" style="left:13px">2022/9/23 最高3.829%</span></div>
<div class="tag green"><span id="gt" style="left:24px">2022/1/3 最低1.529%</span></div>
</body></html>
